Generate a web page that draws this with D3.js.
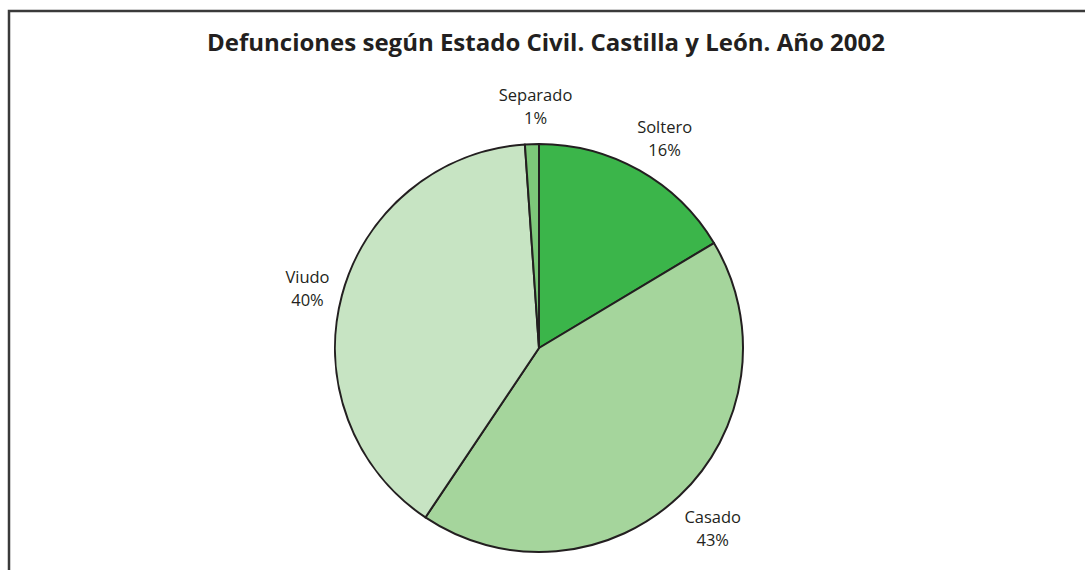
<!DOCTYPE html>
<html>
<head>
<meta charset="utf-8">
<script src="https://cdn.jsdelivr.net/npm/d3@7"></script>
<style>
  html, body { margin: 0; padding: 0; background: #fff; overflow: hidden; }
  .chart-title { font-family: "Open Sans", sans-serif; font-weight: 700; font-size: 24px; fill: #231f20; }
  .slice-label { font-family: "Open Sans", sans-serif; font-weight: 400; font-size: 16.5px; fill: #231f20; }
</style>
</head>
<body>
<div id="chart"></div>
<script>
// Deaths by marital status, Castilla y León 2002 (shares)
const categories = ["Soltero", "Casado", "Viudo", "Separado"];
const shares = [16.4, 43.0, 39.5, 1.1];
const colors = ["#3bb54a", "#a5d59c", "#c7e4c3", "#7dc87a"];

const width = 1085;
const height = 570;
const cx = 539;
const cy = 348;
const radius = 204;

const data = categories.map((c, i) => ({ name: c, value: shares[i], color: colors[i] }));

const svg = d3.select("#chart")
  .append("svg")
  .attr("width", width)
  .attr("height", height);

// frame, open to the right and bottom like the original crop
svg.append("rect")
  .attr("x", 9)
  .attr("y", 11)
  .attr("width", 1100)
  .attr("height", 600)
  .attr("fill", "none")
  .attr("stroke", "#3a3a3a")
  .attr("stroke-width", 2.5);

svg.append("text")
  .attr("class", "chart-title")
  .attr("x", 546)
  .attr("y", 51)
  .attr("text-anchor", "middle")
  .text("Defunciones según Estado Civil. Castilla y León. Año 2002");

const pie = d3.pie()
  .sort(null)
  .value(d => d.value);

const arc = d3.arc()
  .innerRadius(0)
  .outerRadius(radius);

const labelArc = d3.arc()
  .innerRadius(radius * 1.2)
  .outerRadius(radius * 1.2);

const g = svg.append("g")
  .attr("transform", `translate(${cx}, ${cy})`);

const arcs = pie(data);

g.selectAll("path")
  .data(arcs)
  .join("path")
  .attr("d", arc)
  .attr("fill", d => d.data.color)
  .attr("stroke", "#231f20")
  .attr("stroke-width", 2)
  .attr("stroke-linejoin", "round");

const labels = g.selectAll(".slice-label")
  .data(arcs)
  .join("text")
  .attr("class", "slice-label")
  .attr("text-anchor", "middle")
  .attr("transform", d => {
    const [x, y] = labelArc.centroid(d);
    return `translate(${x + 5}, ${y + 3})`;
  });

labels.append("tspan")
  .attr("x", 0)
  .attr("y", -5)
  .text(d => d.data.name);

labels.append("tspan")
  .attr("x", 0)
  .attr("y", 18)
  .text(d => `${Math.round(d.data.value)}%`);
</script>
</body>
</html>
